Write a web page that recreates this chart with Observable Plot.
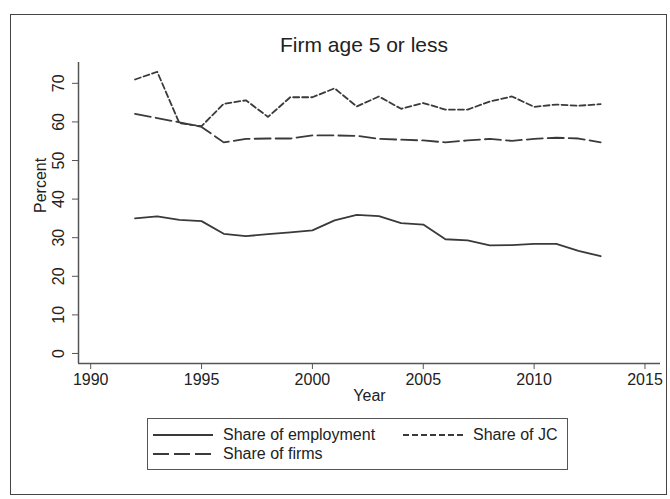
<!DOCTYPE html>
<html>
<head>
<meta charset="utf-8">
<script src="https://cdn.jsdelivr.net/npm/d3@7"></script>
<script src="https://cdn.jsdelivr.net/npm/@observablehq/plot@0.6"></script>
<style>
  html, body { margin: 0; padding: 0; background: #fff; }
  #page { position: relative; width: 670px; height: 499px; overflow: hidden; font-family: "Liberation Sans", Arial, sans-serif; color: #222; }
  #frame { position: absolute; left: 10px; top: 14px; width: 655px; height: 479px; border: 1.5px solid #444; }
  #title { position: absolute; left: 200px; width: 328px; top: 33px; text-align: center; font-size: 21px; line-height: 24px; color: #222; }
  #chart { position: absolute; left: 8px; top: 60px; }
  #legend { position: absolute; left: 147px; top: 418px; width: 421px; height: 52px; border: 1px solid #555; box-sizing: border-box; }
  .item { position: absolute; display: flex; align-items: center; font-size: 16px; line-height: 18px; white-space: nowrap; }
  .item svg { margin-right: 10px; }
</style>
</head>
<body>
<div id="page">
  <div id="frame"></div>
  <div id="title">Firm age 5 or less</div>
  <div id="chart"></div>
  <div id="legend"></div>
</div>
<script>
const years = [1992, 1993, 1994, 1995, 1996, 1997, 1998, 1999, 2000, 2001, 2002,
               2003, 2004, 2005, 2006, 2007, 2008, 2009, 2010, 2011, 2012, 2013];
const shareEmployment = [35.0, 35.5, 34.6, 34.3, 31.0, 30.4, 30.9, 31.4, 31.9, 34.5, 35.9,
                         35.6, 33.8, 33.4, 29.6, 29.3, 28.0, 28.1, 28.4, 28.4, 26.6, 25.2];
const shareJC = [71.0, 73.0, 59.7, 58.9, 64.7, 65.6, 61.3, 66.4, 66.4, 68.7, 64.0,
                 66.6, 63.4, 64.9, 63.2, 63.2, 65.3, 66.6, 63.9, 64.5, 64.2, 64.6];
const shareFirms = [62.1, 61.0, 59.9, 58.7, 54.7, 55.6, 55.7, 55.7, 56.5, 56.5, 56.4,
                    55.6, 55.4, 55.2, 54.7, 55.2, 55.6, 55.1, 55.6, 55.9, 55.7, 54.7];
const seriesNames = ["Share of employment", "Share of JC", "Share of firms"];
const xTicks = [1990, 1995, 2000, 2005, 2010, 2015];
const yTicks = [0, 10, 20, 30, 40, 50, 60, 70];
const xDomain = [1989.45, 2015.7];
const yDomain = [-2.6, 75.4];

const ink = "#3a3a3a";
const dashes = { "Share of employment": null, "Share of JC": "6,3", "Share of firms": "16,5" };
const seriesValues = [shareEmployment, shareJC, shareFirms];
const rows = seriesNames.map((name, i) => years.map((y, j) => ({ name, year: y, value: seriesValues[i][j] })));

const plot = Plot.plot({
  width: 656,
  height: 345,
  marginLeft: 70,
  marginRight: 4,
  marginTop: 2,
  marginBottom: 42,
  style: { fontFamily: "Liberation Sans, Arial, sans-serif", fontSize: "16px", color: "#222", background: "transparent", overflow: "visible" },
  x: { domain: xDomain, label: null },
  y: { domain: yDomain, label: null },
  marks: [
    Plot.ruleX([xDomain[0]], { stroke: "#555", strokeWidth: 1.5 }),
    Plot.ruleY([yDomain[0]], { stroke: "#555", strokeWidth: 1.5 }),
    Plot.axisX({ ticks: xTicks, tickSize: 6, tickPadding: 4, tickFormat: d => String(d), fontSize: 16, stroke: "#555", fill: "#222" }),
    Plot.axisY({ ticks: yTicks, tickSize: 6, tickPadding: 9, tickRotate: -90, tickFormat: d => String(d), fontSize: 16, stroke: "#555", fill: "#222" }),
    Plot.text(["Percent"], { frameAnchor: "left", dx: -38, rotate: -90, text: d => d, fontSize: 16, fill: "#222" }),
    Plot.text(["Year"], { frameAnchor: "bottom", dy: 37, text: d => d, fontSize: 16, fill: "#222" }),
    ...rows.map((r, i) => Plot.lineY(r, { x: "year", y: "value", stroke: ink, strokeWidth: 1.8, strokeDasharray: dashes[seriesNames[i]] }))
  ]
});
document.getElementById("chart").appendChild(plot);

// Legend
const legend = document.getElementById("legend");
const positions = [
  { left: 5, top: 7 },
  { left: 255, top: 7 },
  { left: 5, top: 26 }
];
seriesNames.forEach((name, i) => {
  const item = document.createElement("div");
  item.className = "item";
  item.style.left = positions[i].left + "px";
  item.style.top = positions[i].top + "px";
  const dash = dashes[name];
  item.innerHTML = `<svg width="60" height="18"><line x1="0" x2="60" y1="9" y2="9" stroke="${ink}" stroke-width="1.8" ${dash ? `stroke-dasharray="${dash}"` : ""}/></svg><span>${name}</span>`;
  legend.appendChild(item);
});
</script>
</body>
</html>
